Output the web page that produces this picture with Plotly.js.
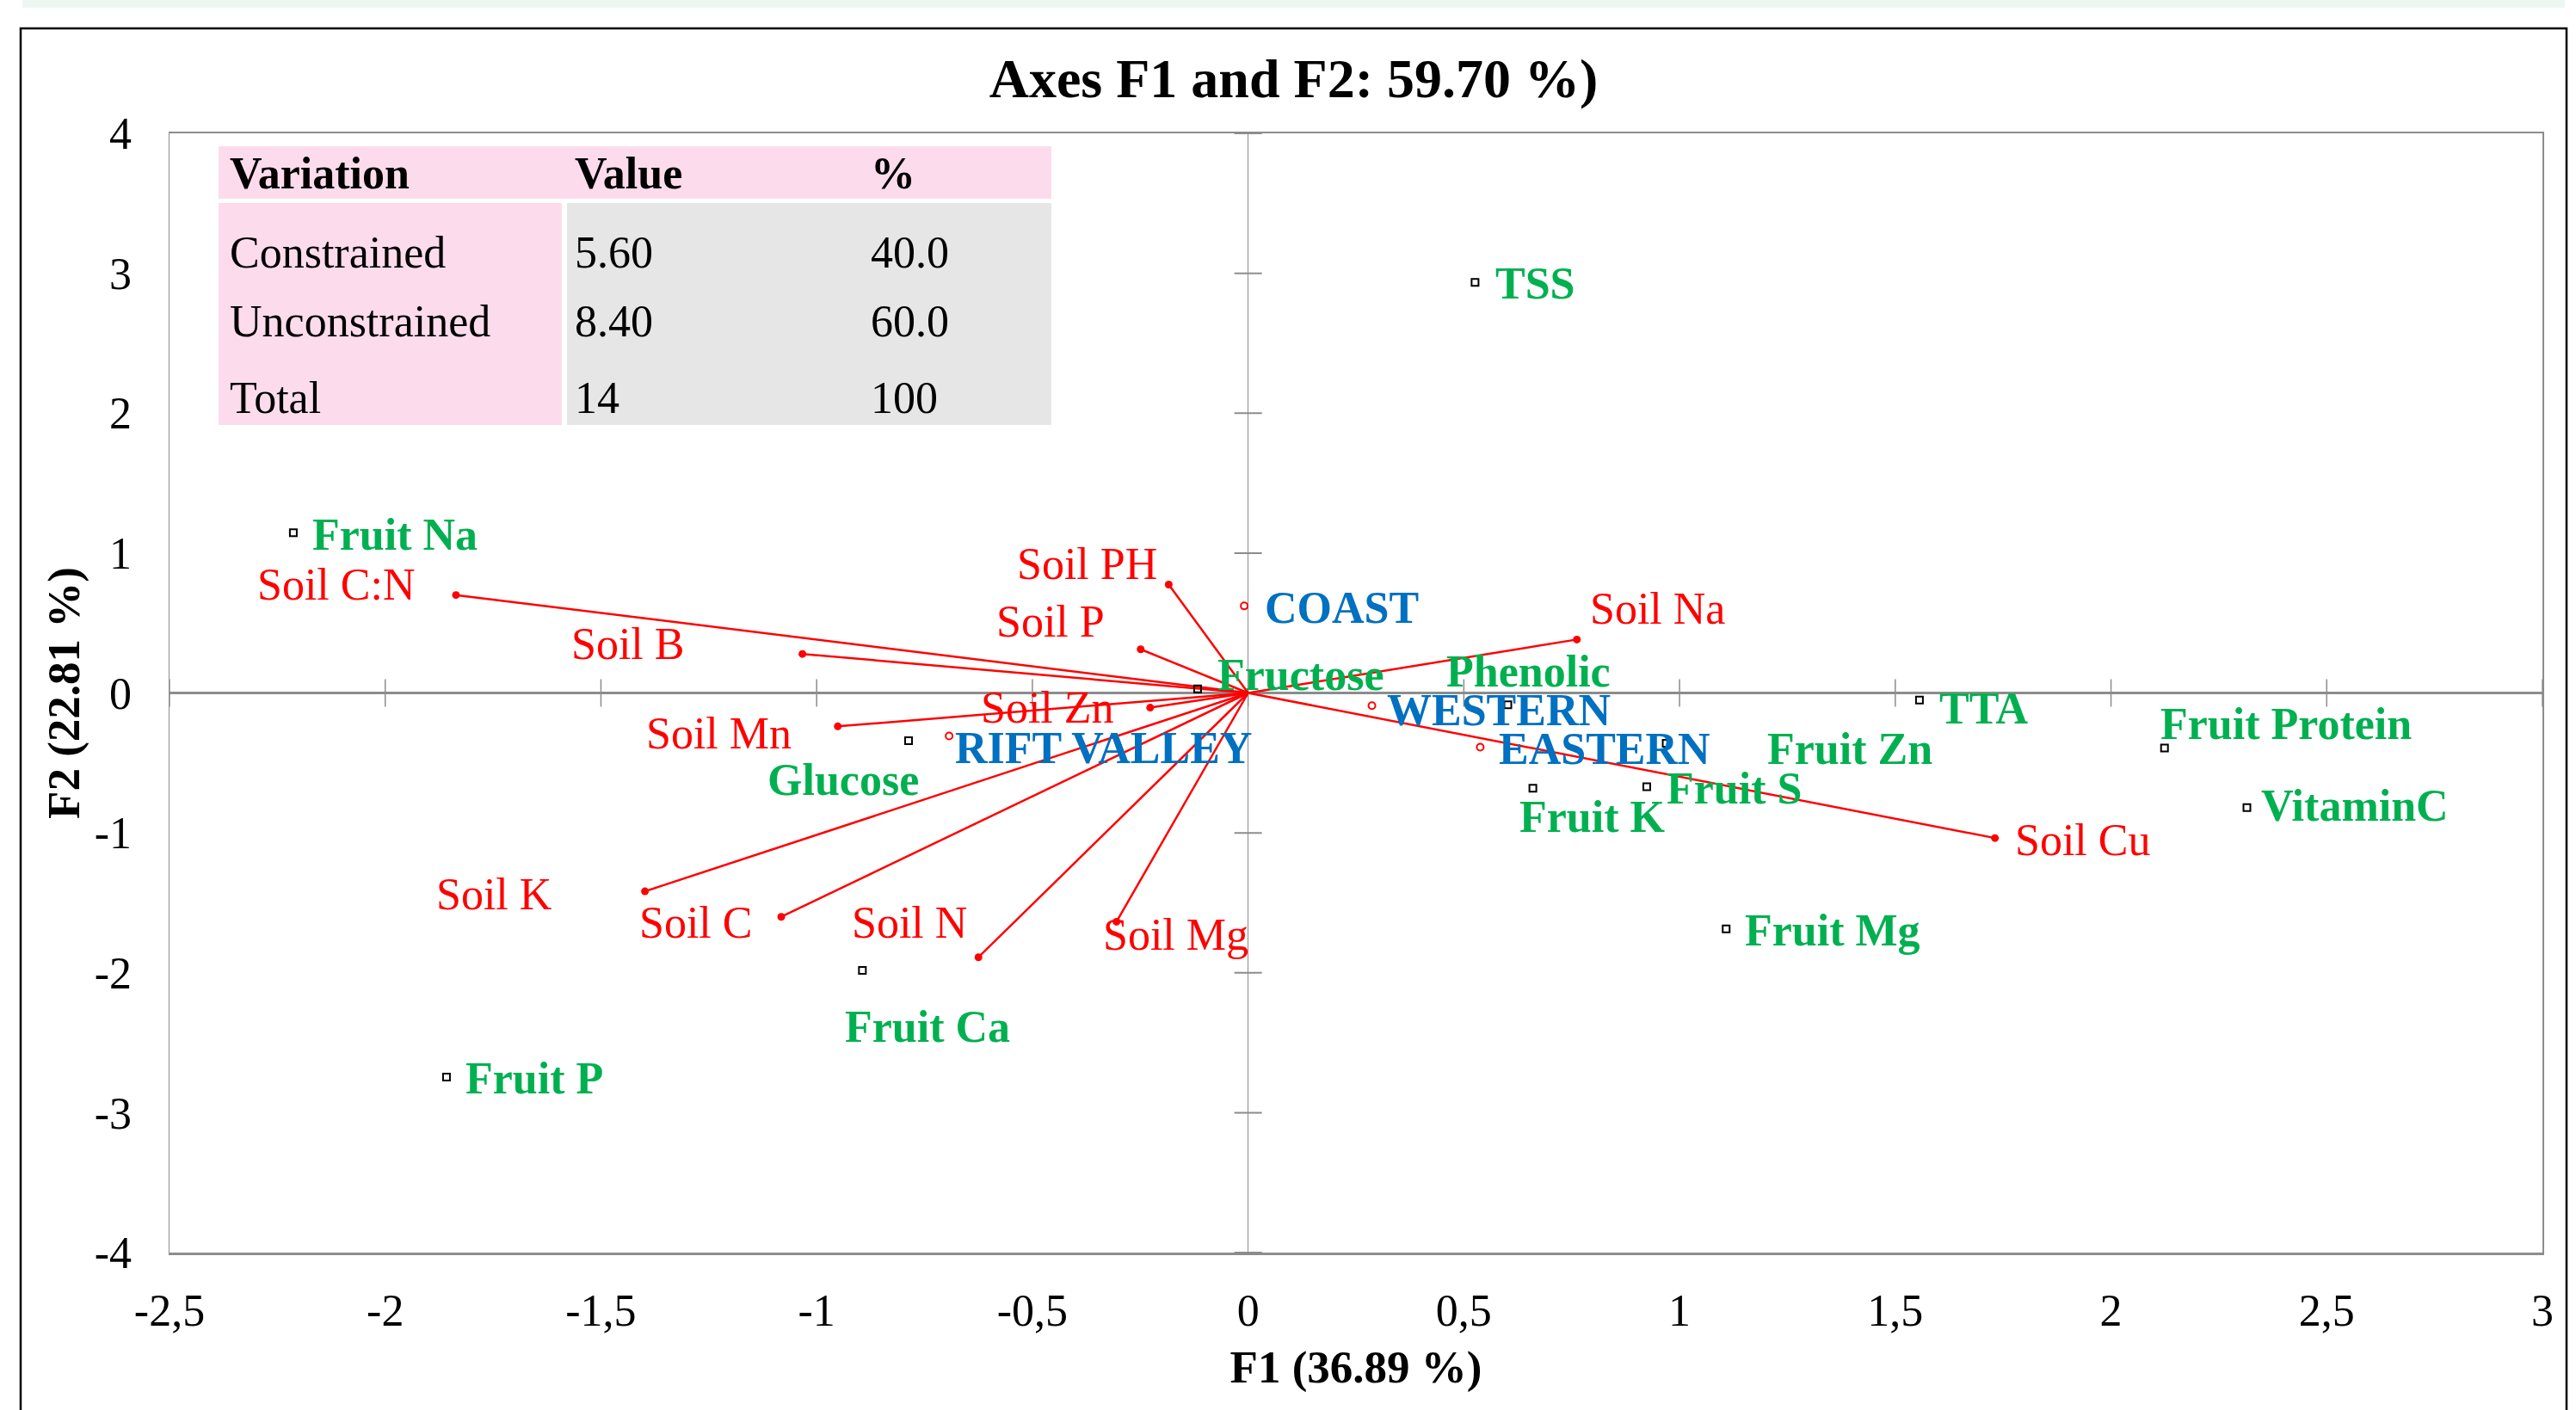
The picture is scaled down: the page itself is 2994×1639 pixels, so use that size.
<!DOCTYPE html>
<html>
<head>
<meta charset="utf-8">
<script src="https://cdn.plot.ly/plotly-3.0.1.min.js"></script>
<style>html,body{margin:0;padding:0;background:#fff;}#chart{width:2994px;height:1639px;}</style>
</head>
<body>
<div id="chart"></div>
<script>
// ---------- DATA ----------
const xTickVals = [-2.5, -2, -1.5, -1, -0.5, 0, 0.5, 1, 1.5, 2, 2.5, 3];
const xTickText = ["-2,5", "-2", "-1,5", "-1", "-0,5", "0", "0,5", "1", "1,5", "2", "2,5", "3"];
const yTickVals = [-4, -3, -2, -1, 0, 1, 2, 3, 4];
const yTickText = ["-4", "-3", "-2", "-1", "0", "1", "2", "3", "4"];

const soilNames = ["Soil C:N", "Soil B", "Soil PH", "Soil P", "Soil Zn", "Soil Mn", "Soil K", "Soil C", "Soil N", "Soil Mg", "Soil Na", "Soil Cu"];
const soilF1 = [-1.836, -1.033, -0.184, -0.249, -0.227, -0.951, -1.398, -1.082, -0.625, -0.305, 0.762, 1.731];
const soilF2 = [0.700, 0.279, 0.775, 0.312, -0.105, -0.239, -1.418, -1.600, -1.889, -1.635, 0.382, -1.037];

const fruitNames = ["Fruit Na", "TSS", "Fructose", "Glucose", "Fruit Ca", "Fruit P", "Phenolic", "Fruit Zn", "Fruit K", "Fruit S", "Fruit Mg", "TTA", "Fruit Protein", "VitaminC"];
const fruitF1 = [-2.213, 0.526, -0.117, -0.787, -0.894, -1.858, 0.602, 0.969, 0.660, 0.924, 1.108, 1.556, 2.124, 2.315];
const fruitF2 = [1.145, 2.934, 0.029, -0.341, -1.983, -2.745, -0.084, -0.359, -0.681, -0.670, -1.687, -0.051, -0.394, -0.820];

const regionNames = ["COAST", "WESTERN", "EASTERN", "RIFT VALLEY"];
const regionF1 = [-0.009, 0.287, 0.538, -0.693];
const regionF2 = [0.622, -0.091, -0.387, -0.3075];

const tableHeader = ["Variation", "Value", "%"];
const tableRows = ["Constrained", "Unconstrained", "Total"];
const tableValue = ["5.60", "8.40", "14"];
const tablePct = ["40.0", "60.0", "100"];

const chartTitle = "Axes F1 and F2: 59.70 %)";
const xTitle = "F1 (36.89 %)";
const yTitle = "F2 (22.81 %)";

// ---------- LABEL PLACEMENT (pixels: anchor, dx, dy downwards) ----------
const soilLabelPos = [["right",-46,-12],["right",-136,-12],["right",-12,-24],["right",-41,-32],["right",-41,0],["right",-53,8],["right",-107,3],["right",-32,7],["right",-12,-40],["left",-17,15],["left",14,-36],["left",22,2]];
const fruitLabelPos = [["left",21,2],["left",23,1],["left",22,-16],["right",13,46],["left",-21,66],["left",21,2],["left",-73,-39],["left",116,7],["left",-17,33],["left",22,2],["left",21,2],["left",22,10],["left",-6,-28],["left",15,-2]];
const regionLabelPos = [["left",23,2],["left",16,5],["left",21,2],["left",6,14]];

// ---------- STYLE ----------
const FONT = "Liberation Serif, Times New Roman, serif";
const RED = "#FF0000", GREEN = "#00B050", BLUE = "#0070C0", GRAY = "#8C8C8C";
const W = 2994, H = 1639;
const M = {l: 197, r: 39, t: 155, b: 183};
const PW = W - M.l - M.r, PH = H - M.t - M.b;
const px = x => (x - M.l) / PW;
const py = y => (H - M.b - y) / PH;

// ---------- TRACES ----------
const lineX = [], lineY = [];
soilF1.forEach((v, i) => { lineX.push(0, v, null); lineY.push(0, soilF2[i], null); });

const traces = [
  {type: "scatter", mode: "lines", x: lineX, y: lineY, line: {color: RED, width: 2.5}, hoverinfo: "skip", showlegend: false},
  {type: "scatter", mode: "markers", x: soilF1, y: soilF2, text: soilNames, marker: {color: RED, size: 9, symbol: "circle"}, showlegend: false, cliponaxis: false},
  {type: "scatter", mode: "markers", x: fruitF1, y: fruitF2, text: fruitNames, marker: {color: "#000000", size: 8, symbol: "square-open", line: {color: "#000000", width: 2}}, showlegend: false},
  {type: "scatter", mode: "markers", x: regionF1, y: regionF2, text: regionNames, marker: {color: RED, size: 8, symbol: "circle-open", line: {color: RED, width: 2}}, showlegend: false}
];

// ---------- ANNOTATIONS ----------
const annotations = [];
function addLabels(names, xs, ys, pos, color, weight) {
  names.forEach((n, i) => {
    annotations.push({
      x: xs[i], y: ys[i], xref: "x", yref: "y", text: n, showarrow: false,
      xanchor: pos[i][0], yanchor: "middle", xshift: pos[i][1], yshift: -pos[i][2],
      borderpad: 0, font: {family: FONT, size: 52, color: color, weight: weight}
    });
  });
}
addLabels(soilNames, soilF1, soilF2, soilLabelPos, RED, "normal");
addLabels(fruitNames, fruitF1, fruitF2, fruitLabelPos, GREEN, "bold");
addLabels(regionNames, regionF1, regionF2, regionLabelPos, BLUE, "bold");

// table text
const colX = [266, 667, 1011];
const headerY = 202;
const rowY = [293, 373, 462];
tableHeader.forEach((t, j) => {
  annotations.push({x: px(colX[j]), y: py(headerY), xref: "paper", yref: "paper", text: t, showarrow: false, xanchor: "left", yanchor: "middle", borderpad: 0, font: {family: FONT, size: 52, color: "#000", weight: "bold"}});
});
[tableRows, tableValue, tablePct].forEach((col, j) => {
  col.forEach((t, i) => {
    annotations.push({x: px(colX[j]), y: py(rowY[i]), xref: "paper", yref: "paper", text: t, showarrow: false, xanchor: "left", yanchor: "middle", borderpad: 0, font: {family: FONT, size: 52, color: "#000"}});
  });
});

// ---------- SHAPES ----------
const shapes = [];
// top mint strip
shapes.push({type: "rect", xref: "paper", yref: "paper", x0: px(26), x1: px(2981), y0: py(0), y1: py(9), fillcolor: "#EDF7F2", line: {width: 0}, layer: "below"});
// outer chart border
shapes.push({type: "rect", xref: "paper", yref: "paper", x0: px(24), x1: px(2983), y0: py(33), y1: py(1660), fillcolor: "rgba(0,0,0,0)", line: {color: "#000", width: 2.5}, layer: "below"});
// tick crosses on zero lines
xTickVals.forEach(v => shapes.push({type: "line", xref: "x", yref: "y", x0: v, x1: v, ysizemode: "pixel", yanchor: 0, y0: -16, y1: 16, line: {color: GRAY, width: 1.5}, layer: "below"}));
yTickVals.forEach(v => shapes.push({type: "line", xref: "x", yref: "y", y0: v, y1: v, xsizemode: "pixel", xanchor: 0, x0: -16, x1: 16, line: {color: GRAY, width: 2}, layer: "below"}));
// table cells
const PINK = "#FCDCEC", CELLGRAY = "#E6E6E6";
shapes.push({type: "rect", xref: "paper", yref: "paper", x0: px(254), x1: px(1222), y0: py(231), y1: py(170), fillcolor: PINK, line: {width: 0}, layer: "above"});
shapes.push({type: "rect", xref: "paper", yref: "paper", x0: px(254), x1: px(653), y0: py(494), y1: py(236), fillcolor: PINK, line: {width: 0}, layer: "above"});
shapes.push({type: "rect", xref: "paper", yref: "paper", x0: px(659), x1: px(1222), y0: py(494), y1: py(236), fillcolor: CELLGRAY, line: {width: 0}, layer: "above"});

const layout = {
  width: W, height: H,
  margin: M,
  paper_bgcolor: "#fff", plot_bgcolor: "#fff",
  showlegend: false,
  title: {text: chartTitle, x: 1503.5 / W, xref: "container", xanchor: "center", y: 1 - 91 / H, yref: "container", yanchor: "middle",
          font: {family: FONT, size: 64, color: "#000", weight: "bold"}},
  xaxis: {range: [-2.5, 3], tickvals: xTickVals, ticktext: xTickText, ticks: "outside", ticklen: 20, tickcolor: "rgba(0,0,0,0)",
          tickfont: {family: FONT, size: 52, color: "#000"}, showgrid: false, zeroline: true, zerolinecolor: GRAY, zerolinewidth: 1.5,
          showline: true, mirror: true, linecolor: GRAY, linewidth: 2.5, automargin: false, fixedrange: true,
          title: {text: xTitle, standoff: 19, font: {family: FONT, size: 53, color: "#000", weight: "bold"}}},
  yaxis: {range: [-4, 4], tickvals: yTickVals, ticktext: yTickText, ticks: "outside", ticklen: 32, tickcolor: "rgba(0,0,0,0)",
          tickfont: {family: FONT, size: 52, color: "#000"}, showgrid: false, zeroline: true, zerolinecolor: GRAY, zerolinewidth: 2.5,
          showline: true, mirror: true, linecolor: GRAY, linewidth: 1.5, automargin: false, fixedrange: true,
          title: {text: yTitle, standoff: 0, font: {family: FONT, size: 53, color: "#000", weight: "bold"}}},
  shapes: shapes,
  annotations: annotations
};

Plotly.newPlot("chart", traces, layout, {staticPlot: true, displayModeBar: false});
</script>
</body>
</html>
